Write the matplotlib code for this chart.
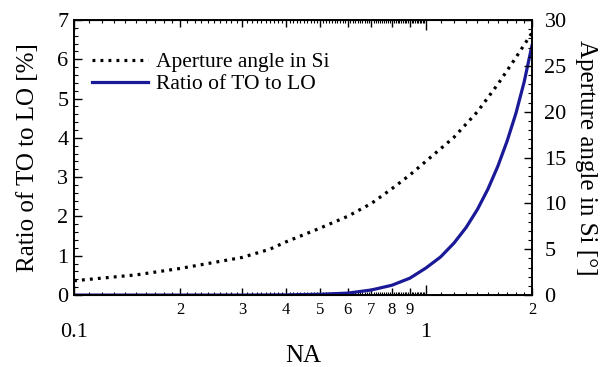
import matplotlib
matplotlib.use("Agg")
import matplotlib.pyplot as plt
from matplotlib.ticker import FixedLocator, FixedFormatter, MultipleLocator

plt.rcParams['font.family'] = ['Liberation Serif', 'DejaVu Serif']

# ratio of TO to LO phonon signal (left axis, %)
na_ratio = [0.1, 0.15, 0.2, 0.3, 0.4, 0.5, 0.6, 0.7, 0.8, 0.9, 1.0,
            1.1, 1.2, 1.3, 1.4, 1.5, 1.6, 1.7, 1.8, 1.9, 2.0]
ratio = [0.0, 0.0, 0.0, 0.0, 0.005, 0.02, 0.05, 0.13, 0.25, 0.43, 0.69,
         0.97, 1.32, 1.72, 2.18, 2.70, 3.28, 3.92, 4.62, 5.42, 6.35]

# aperture angle inside silicon (right axis, degrees)
na_angle = [0.1, 0.15, 0.2, 0.3, 0.36, 0.4, 0.5, 0.6, 0.7, 0.8, 0.9, 1.0,
            1.2, 1.4, 1.6, 1.8, 2.0]
angle = [1.56, 2.2, 2.9, 4.1, 5.0, 5.8, 7.3, 8.6, 10.0, 11.6, 13.1, 14.6,
         17.2, 20.0, 23.0, 25.9, 28.6]

major_x = [0.1, 1.0]
major_x_labels = ['0.1', '1']
minor_x = [0.2, 0.3, 0.4, 0.5, 0.6, 0.7, 0.8, 0.9, 2.0]
minor_x_labels = ['2', '3', '4', '5', '6', '7', '8', '9', '2']
# unlabelled small ticks: 0.11 ... 0.99 and 1.1 ... 1.9
small_x = [i / 100 for i in range(11, 100) if i % 10] + [1 + i / 10 for i in range(1, 10)]

blue = '#1a1a98'

fig = plt.figure(figsize=(6.03, 3.67), dpi=100)
ax = fig.add_axes([0.1227, 0.196, 0.7595, 0.7495])
ax2 = ax.twinx()

l1, = ax.plot(na_ratio, ratio, color=blue, lw=2.3, label='Ratio of TO to LO')
l2, = ax2.plot(na_angle, angle, color='black', lw=2.3, linestyle=(0, (0.9, 1.6)),
               label='Aperture angle in Si')

ax.set_xscale('log')
ax.set_xlim(0.1, 2.0)
ax.set_ylim(0, 7)
ax2.set_ylim(0, 30)

ax.xaxis.set_major_locator(FixedLocator(major_x))
ax.xaxis.set_major_formatter(FixedFormatter(major_x_labels))
ax.xaxis.set_minor_locator(FixedLocator(minor_x))
ax.xaxis.set_minor_formatter(FixedFormatter(minor_x_labels))
ax.tick_params(axis='x', which='major', direction='in', length=7, width=1,
               top=True, labelsize=16, pad=20)
ax.tick_params(axis='x', which='minor', direction='in', length=5, width=1,
               top=True, labelsize=12, pad=5)

# extra short ticks on bottom and top
for loc in ('bottom', 'top'):
    sec = ax.secondary_xaxis(loc)
    sec.xaxis.set_major_locator(FixedLocator(small_x))
    sec.xaxis.set_minor_locator(FixedLocator([]))
    sec.tick_params(which='both', direction='in', length=2.5, width=0.8,
                    labelbottom=False, labeltop=False)

ax.yaxis.set_major_locator(MultipleLocator(1))
ax.yaxis.set_minor_locator(MultipleLocator(0.2))
ax.tick_params(axis='y', which='major', direction='in', length=6, width=1,
               labelsize=16, pad=4)
ax.tick_params(axis='y', which='minor', direction='in', length=3, width=0.8)

ax2.yaxis.set_major_locator(MultipleLocator(5))
ax2.yaxis.set_minor_locator(MultipleLocator(1))
ax2.tick_params(axis='y', which='major', direction='in', length=6, width=1,
                labelsize=16, pad=9)
ax2.tick_params(axis='y', which='minor', direction='in', length=3, width=0.8)

ax.set_xlabel('NA', fontsize=18, labelpad=2)
ax.set_ylabel('Ratio of TO to LO [%]', fontsize=18, labelpad=13)
ax2.set_ylabel('Aperture angle in Si [°]', fontsize=18, rotation=270, labelpad=22)

for a in (ax, ax2):
    for s in a.spines.values():
        s.set_linewidth(1.2)

ax2.legend(handles=[l2, l1], loc='upper left', frameon=False, fontsize=15.5,
           handlelength=2.6, handletextpad=0.4, labelspacing=0.1,
           bbox_to_anchor=(0.02, 0.915), borderaxespad=0)

fig.savefig('out.png', dpi=100)
